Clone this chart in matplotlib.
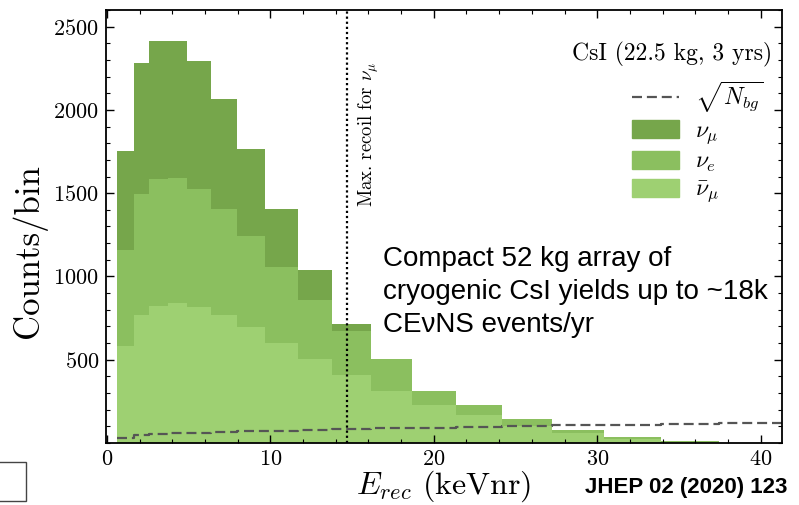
import matplotlib
matplotlib.use("Agg")
import matplotlib.pyplot as plt
from matplotlib.patches import Patch, Rectangle
from matplotlib.lines import Line2D
from matplotlib.ticker import MultipleLocator

plt.rcParams['font.family'] = 'serif'
plt.rcParams['font.serif'] = ['cmr10']
plt.rcParams['mathtext.fontset'] = 'cm'
plt.rcParams['axes.formatter.use_mathtext'] = True

# Recoil energy bin edges (keVnr)
edges = [0.6, 1.65, 2.55, 3.75, 4.9, 6.35, 7.95, 9.7, 11.7, 13.8, 16.15,
         18.65, 21.35, 24.15, 27.25, 30.4, 33.9, 37.45]

# Counts per bin for each neutrino flavour
nu_mu = [596, 783, 829, 820, 767, 660, 525, 354, 175, 40, 0, 0, 0, 0, 0, 0, 0]
nu_e = [573, 729, 758, 751, 705, 636, 545, 452, 355, 266, 193, 86, 62, 44, 22, 10, 3]
nubar_mu = [584, 769, 825, 841, 819, 770, 695, 602, 506, 406, 313, 227, 167, 102, 58, 26, 7]

# sqrt(N_bg) per bin, last step runs to the edge of the plot
bg_edges = edges + [41.3]
sqrt_nbg = [30, 45, 52, 57, 62, 66, 70, 74, 78, 82, 87, 92, 97, 102, 106, 110, 114, 119]

max_recoil = 14.7

c_mu = '#76a64b'
c_e = '#8bbf5f'
c_mubar = '#9ed072'

fig = plt.figure(figsize=(7.99, 5.05), dpi=100)
ax = fig.add_axes([0.1327, 0.1228, 0.846, 0.8574])

centers = [(edges[i] + edges[i + 1]) / 2 for i in range(len(edges) - 1)]
ax.hist([centers, centers, centers], bins=edges,
        weights=[nubar_mu, nu_e, nu_mu], stacked=True,
        histtype='stepfilled', color=[c_mubar, c_e, c_mu], linewidth=0)

ax.plot(bg_edges, sqrt_nbg + [sqrt_nbg[-1]], drawstyle='steps-post',
        color='#555555', lw=1.6, dashes=(4.5, 2.2))

ax.axvline(max_recoil, color='black', lw=1.6, linestyle=(0, (1, 1.3)))
ax.text(16.0, 2290, r'Max. recoil for $\nu_\mu$', rotation=90,
        ha='center', va='top', fontsize=13.5)

ax.set_xlim(-0.05, 41.3)
ax.set_ylim(0, 2600)
ax.set_yticks([500, 1000, 1500, 2000, 2500])
ax.xaxis.set_major_locator(MultipleLocator(10))
ax.xaxis.set_minor_locator(MultipleLocator(2))
ax.yaxis.set_minor_locator(MultipleLocator(100))
ax.tick_params(which='both', direction='in', top=True, right=True,
               labelsize=16, pad=5)
ax.tick_params(which='major', length=6, width=1)
ax.tick_params(which='minor', length=3, width=0.8)
for s in ax.spines.values():
    s.set_linewidth(1.3)

ax.set_xlabel(r'$E_{rec}$ (keVnr)', fontsize=23, labelpad=-1)
ax.set_ylabel('Counts/bin', fontsize=25)
ax.yaxis.set_label_coords(-0.088, 0.443)

# Legend and detector label
ax.text(0.985, 0.897, 'CsI (22.5 kg, 3 yrs)', transform=ax.transAxes,
        ha='right', va='center', fontsize=17)
handles = [Line2D([], [], color='#555555', lw=1.6, dashes=(4.5, 2.2)),
           Patch(color=c_mu), Patch(color=c_e), Patch(color=c_mubar)]
labels = [r'$\sqrt{N_{bg}}$', r'$\nu_\mu$', r'$\nu_e$', r'$\bar{\nu}_\mu$']
fig.legend(handles, labels, loc='upper left',
           bbox_to_anchor=(632 / 799, 1 - 80 / 505), frameon=False,
           fontsize=17, handlelength=2.0, handleheight=0.8,
           handletextpad=0.65, labelspacing=0.2, borderpad=0,
           borderaxespad=0)

fig.text(383 / 799, 1 - 246 / 505,
         'Compact 52 kg array of\ncryogenic CsI yields up to ~18k\nCEνNS events/yr',
         family='Liberation Sans', fontsize=20, ha='left', va='top',
         linespacing=1.36)
fig.text(787 / 799, 1 - 488 / 505, 'JHEP 02 (2020) 123',
         family='Liberation Sans', fontweight='bold', fontsize=16,
         ha='right', va='center')

fig.patches.append(Rectangle((-10 / 799, 1 - 501 / 505), 36 / 799, 39 / 505,
                             transform=fig.transFigure, fill=False,
                             edgecolor='#444444', lw=1))

fig.savefig('out.png', dpi=100)
